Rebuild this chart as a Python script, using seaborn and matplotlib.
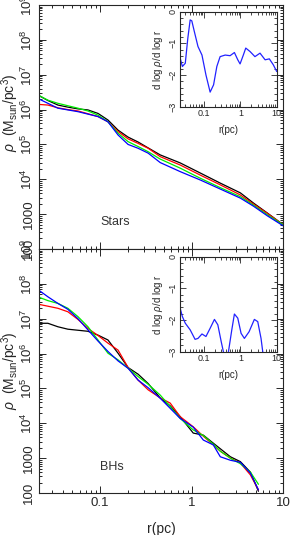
import numpy as np
import pandas as pd
import matplotlib
matplotlib.use("Agg")
import matplotlib.pyplot as plt
import seaborn as sns

# ── data (log10 r [pc], log10 rho [Msun/pc^3]) ──
lr_stars = [-1.678, -1.568, -1.459, -1.350, -1.240, -1.131, -1.022, -0.913, -0.803, -0.694,
            -0.585, -0.475, -0.344, -0.126, 0.093, 0.311, 0.530, 0.672, 0.825, 1.0]
stars_black = [6.42, 6.26, 6.13, 6.07, 6.02, 5.99, 5.89, 5.70, 5.41, 5.21,
               5.07, 4.90, 4.70, 4.47, 4.18, 3.89, 3.61, 3.32, 3.03, 2.69]
stars_red = [6.15, 6.13, 6.05, 6.00, 5.96, 5.88, 5.80, 5.65, 5.37, 5.16,
             5.03, 4.89, 4.65, 4.41, 4.12, 3.84, 3.55, 3.29, 3.02, 2.69]
stars_green = [6.42, 6.27, 6.18, 6.11, 6.04, 5.96, 5.84, 5.65, 5.32, 5.08,
               4.94, 4.79, 4.58, 4.32, 4.03, 3.76, 3.50, 3.26, 2.98, 2.69]
stars_blue = [6.32, 6.18, 6.04, 5.99, 5.94, 5.87, 5.80, 5.65, 5.27, 5.00,
              4.89, 4.75, 4.48, 4.22, 3.98, 3.72, 3.46, 3.23, 2.95, 2.66]

lr_bh = [-1.678, -1.568, -1.459, -1.350, -1.240, -1.131, -1.022, -0.913, -0.803, -0.694,
         -0.585, -0.475, -0.344, -0.235, -0.126, 0.016, 0.126, 0.235, 0.311, 0.421,
         0.530, 0.639, 0.727]
bh_black = [6.87, 6.87, 6.77, 6.70, 6.67, 6.64, 6.53, 6.39, 6.01, 5.60,
            5.41, 5.14, 4.73, 4.50, 4.19, 3.72, 3.66, 3.43, 3.27, 3.04,
            2.90, 2.60, 2.05]
bh_red = [7.42, 7.36, 7.30, 7.20, 6.98, 6.72, 6.52, 6.30, 6.10, 5.60,
          5.24, 4.96, 4.73, 4.58, 4.19, 3.90, 3.63, 3.38, 3.20, 3.00,
          2.86, 2.52, 2.09]
bh_green = [7.63, 7.52, 7.44, 7.30, 7.06, 6.77, 6.39, 6.01, 5.82, 5.58,
            5.34, 5.12, 4.81, 4.48, 4.14, 3.81, 3.65, 3.40, 3.20, 3.00,
            2.84, 2.60, 2.25]
bh_blue = [7.84, 7.63, 7.44, 7.27, 7.00, 6.68, 6.36, 6.06, 5.79, 5.58,
           5.24, 5.02, 4.72, 4.43, 4.14, 3.89, 3.52, 3.38, 3.04, 2.94,
           2.88, 2.57, 2.09]

# log slope of the blue run (insets)
lr_slope_stars = [-1.66, -1.60, -1.52, -1.45, -1.385, -1.34, -1.27, -1.17, -1.06, -0.95,
                  -0.835, -0.74, -0.65, -0.56, -0.42, -0.285, -0.166, -0.073, -0.01, 0.08,
                  0.147, 0.266, 0.40, 0.54, 0.68, 0.797, 0.907, 1.0]
slope_stars = [-1.47, -1.73, -1.63, -0.84, -0.26, -0.29, -0.63, -1.10, -1.37, -2.00,
               -2.54, -2.31, -1.73, -1.42, -1.37, -1.39, -1.29, -1.52, -1.65, -1.37,
               -1.15, -1.26, -1.42, -1.31, -1.52, -1.49, -1.68, -1.89]
lr_slope_bh = [-1.66, -1.60, -1.52, -1.385, -1.25, -1.17, -1.06, -0.95, -0.835, -0.716,
               -0.623, -0.53, -0.47, -0.40, -0.33, -0.238, -0.166, -0.073, 0.018, 0.109,
               0.238, 0.384, 0.477, 0.568, 0.615, 0.71, 1.0]
slope_bh = [-1.63, -1.89, -2.10, -2.31, -2.61, -2.58, -2.44, -2.52, -2.26, -1.98,
            -2.15, -2.68, -3.00, -3.30, -3.00, -2.31, -1.81, -1.94, -2.42, -2.58,
            -2.37, -1.98, -2.05, -2.58, -3.00, -3.50, -3.50]

runs = ["black", "red", "green", "blue"]
run_colors = {"black": "#000000", "red": "#ff0000", "green": "#00ee00", "blue": "#0000ff"}

y_ticks = [1e2, 1e3, 1e4, 1e5, 1e6, 1e7, 1e8, 1e9]
y_ticklabels = ["100", "1000", r"$10^4$", r"$10^5$", r"$10^6$", r"$10^7$", r"$10^8$", r"$10^9$"]
x_ticks = [0.1, 1, 10]
x_ticklabels = ["0.1", "1", "10"]
slope_ticks = [-3, -2, -1, 0]
slope_ticklabels = ["\u22123", "\u22122", "\u22121", "0"]

sns.set_style("ticks")
plt.rcParams["font.family"] = ["Liberation Sans", "DejaVu Sans"]
plt.rcParams["mathtext.fontset"] = "custom"
plt.rcParams["mathtext.rm"] = "Liberation Sans"
plt.rcParams["mathtext.it"] = "Liberation Sans:italic"
plt.rcParams["axes.linewidth"] = 0.8

XMIN = 10 ** -1.665


def long_frame(lr, series):
    rows = []
    for name, vals in zip(runs, series):
        for a, b in zip(lr, vals):
            rows.append({"r": 10 ** a, "rho": 10 ** b, "run": name})
    return pd.DataFrame(rows)


def style_main(ax, show_x):
    ax.set_xscale("log")
    ax.set_yscale("log")
    ax.set_xlim(XMIN, 10)
    ax.set_ylim(100, 1e9)
    ax.tick_params(which="both", direction="in", top=True, right=True, width=0.7)
    ax.tick_params(which="major", length=5, labelsize=9.5, pad=3)
    ax.tick_params(which="minor", length=2.5)
    ax.set_yticks(y_ticks)
    ax.set_yticklabels(y_ticklabels, rotation=90, va="center")
    ax.set_xticks(x_ticks)
    ax.set_xticklabels(x_ticklabels if show_x else [])
    ax.set_ylabel(r"$\rho$  (M$_{\rm sun}$/pc$^3$)", fontsize=10)
    ax.set_xlabel("")


def style_inset(ax):
    ax.set_xscale("log")
    ax.set_xlim(XMIN, 10)
    ax.set_ylim(-3, 0)
    ax.tick_params(which="both", direction="in", top=True, right=True, width=0.6)
    ax.tick_params(which="major", length=4, labelsize=6.5, pad=2)
    ax.tick_params(which="minor", length=2)
    ax.set_yticks(slope_ticks)
    ax.set_yticklabels(slope_ticklabels, rotation=90, va="center")
    ax.set_yticks(np.arange(-3, 0.01, 0.2), minor=True)
    ax.set_xticks(x_ticks)
    ax.set_xticklabels(x_ticklabels)
    ax.set_xlabel("r(pc)", fontsize=7, labelpad=5)
    ax.set_ylabel(r"d log $\rho$/d log r", fontsize=7, labelpad=2)


fig = plt.figure(figsize=(2.91, 5.35), dpi=100)
ax_top = fig.add_axes([0.134, 0.5346, 0.8402, 0.456])
ax_bot = fig.add_axes([0.134, 0.0785, 0.8402, 0.456])

df_stars = long_frame(lr_stars, [stars_black, stars_red, stars_green, stars_blue])
df_bh = long_frame(lr_bh, [bh_black, bh_red, bh_green, bh_blue])

sns.lineplot(data=df_stars, x="r", y="rho", hue="run", palette=run_colors,
             estimator=None, sort=True, lw=0.9, legend=False, ax=ax_top)
sns.lineplot(data=df_bh, x="r", y="rho", hue="run", palette=run_colors,
             estimator=None, sort=True, lw=0.9, legend=False, ax=ax_bot)

style_main(ax_top, show_x=False)
style_main(ax_bot, show_x=True)
ax_top.yaxis.set_label_coords(-0.075, 0.56)
ax_bot.yaxis.set_label_coords(-0.075, 0.50)
ax_bot.set_xlabel("r(pc)", fontsize=10, labelpad=9)

ax_top.text(0.25, 0.10, "Stars", transform=ax_top.transAxes, fontsize=9, color="#333333")
ax_bot.text(0.25, 0.095, "BHs", transform=ax_bot.transAxes, fontsize=9, color="#333333")

# insets
in_top = fig.add_axes([0.6186, 0.8006, 0.3323, 0.1776])
in_bot = fig.add_axes([0.6186, 0.3426, 0.3323, 0.1776])
sns.lineplot(x=10 ** np.array(lr_slope_stars), y=slope_stars, color="#2222ff",
             lw=0.9, estimator=None, sort=False, ax=in_top)
sns.lineplot(x=10 ** np.array(lr_slope_bh), y=slope_bh, color="#2222ff",
             lw=0.9, estimator=None, sort=False, ax=in_bot)
style_inset(in_top)
style_inset(in_bot)

fig.savefig("out.png", dpi=100)
